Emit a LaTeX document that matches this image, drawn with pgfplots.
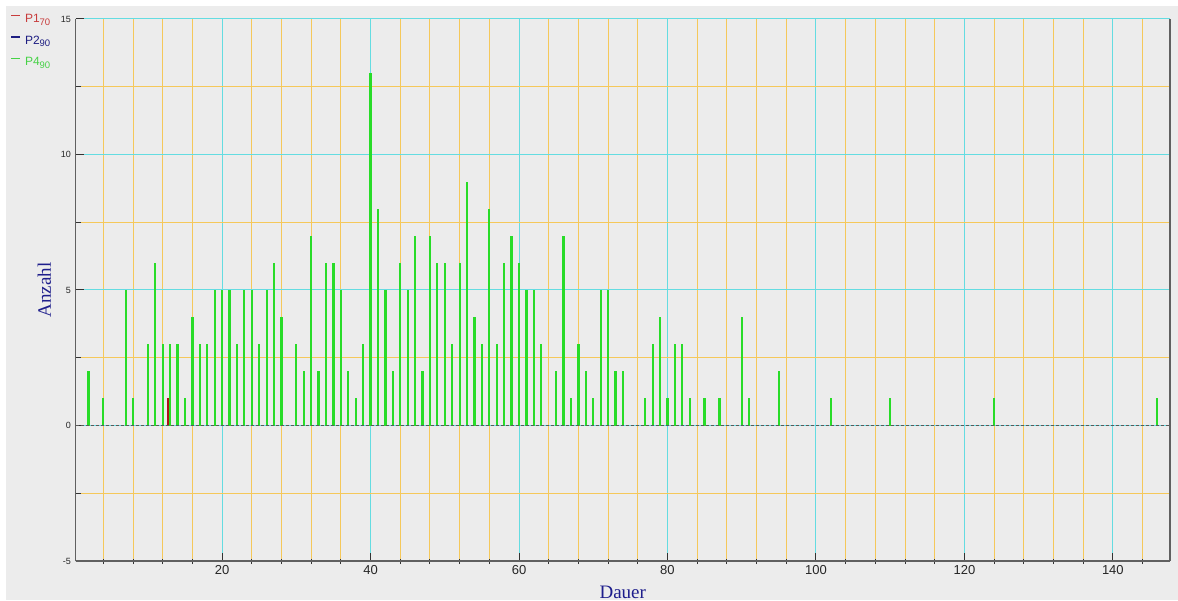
\documentclass[border=0pt]{standalone}
\usepackage{fontspec}
\setmainfont{Liberation Serif}
\setsansfont{Liberation Sans}
\usepackage{pgfplots}
\pgfplotsset{compat=1.18}
\definecolor{bg}{RGB}{236,236,236}
\definecolor{gridcyan}{RGB}{100,220,225}
\definecolor{gridorange}{RGB}{245,200,90}
\definecolor{axgray}{RGB}{96,96,96}
\definecolor{barg}{RGB}{40,220,40}
\definecolor{barr}{RGB}{170,20,20}
\definecolor{labblue}{RGB}{30,30,140}
\definecolor{legred}{RGB}{200,60,60}
\definecolor{legblue}{RGB}{30,30,130}
\definecolor{leggreen}{RGB}{70,210,70}
\newcommand{\lsub}[1]{\raisebox{-2.5pt}{\fontsize{9.5}{9.5}\selectfont #1}}
\begin{document}
\begin{tikzpicture}[x=1pt,y=1pt]
\path[use as bounding box] (0,0) rectangle (1178,600);
\fill[white] (0,0) rectangle (1178,600);
\fill[bg] (6,0) rectangle (1178,594);
\begin{axis}[
  at={(75.5pt,39pt)}, anchor=south west,
  scale only axis, width=1094.5pt, height=542pt,
  xmin=0.25, xmax=147.7, ymin=-5, ymax=15,
  axis x line*=bottom, axis y line*=box,
  axis line style={axgray, line width=1.5pt},
  xtick={20,40,...,140}, ytick={-5,0,...,15},
  minor xtick={4,8,12,16,24,28,32,36,44,48,52,56,64,68,72,76,84,88,92,96,104,108,112,116,124,128,132,136,144},
  minor ytick={-2.5,2.5,7.5,12.5},
  grid=both,
  major grid style={gridcyan, line width=1pt},
  minor grid style={gridorange, line width=1pt},
  ytick pos=left,
  tick align=inside,
  major tick length=8pt, minor tick length=5pt,
  tick style={black!80, line width=1pt},
  minor x tick style={yshift=-3pt},
  /pgf/number format/assume math mode=true,
  xticklabel style={font=\sffamily\fontsize{13}{13}\selectfont, inner sep=0pt, yshift=-4pt, text=black!85},
  yticklabel style={font=\sffamily\fontsize{9}{9}\selectfont, inner sep=0pt, xshift=-4.5pt, text=black!85},
  xlabel={Dauer},
  xlabel style={at={(axis description cs:0.5,-0.0683)}, anchor=base, font=\fontsize{19}{19}\selectfont, text=labblue, inner sep=0pt},
  ylabel={Anzahl},
  ylabel style={at={(axis description cs:-0.0224,0.5)}, anchor=base, font=\fontsize{19}{19}\selectfont, text=labblue, inner sep=0pt},
  legend style={at={(axis description cs:-0.0592,1.0092)}, anchor=north west, draw=none, fill=none,
    font=\sffamily\fontsize{12}{12}\selectfont, row sep=10pt, inner sep=0pt, outer sep=0pt,
    nodes={inner sep=0pt, text height=8.5pt, text depth=3pt},
    /tikz/every odd column/.append style={column sep=4pt}},
  legend cell align=left,
  legend image code/.code={\draw[#1, line width=1.3pt] (0pt,4.3pt) -- (9pt,4.3pt);},
]
\addlegendimage{legred}
\addlegendentry{\textcolor{legred}{P1\lsub{70}}}
\addlegendimage{legblue}
\addlegendentry{\textcolor{legblue}{P2\lsub{90}}}
\addlegendimage{leggreen}
\addlegendentry{\textcolor{leggreen}{P4\lsub{90}}}
% P4 (green)
\addplot[forget plot, ycomb, barg, line width=2.2pt] coordinates {
(2,2)(4,1)(7,5)(8,1)(10,3)(11,6)(12,3)(13,3)(14,3)(15,1)(16,4)(17,3)(18,3)(19,5)(20,5)
(21,5)(22,3)(23,5)(24,5)(25,3)(26,5)(27,6)(28,4)(30,3)(31,2)(32,7)(33,2)(34,6)(35,6)
(36,5)(37,2)(38,1)(39,3)(40,13)(41,8)(42,5)(43,2)(44,6)(45,5)(46,7)(47,2)(48,7)(49,6)
(50,6)(51,3)(52,6)(53,9)(54,4)(55,3)(56,8)(57,3)(58,6)(59,7)(60,6)(61,5)(62,5)(63,3)
(65,2)(66,7)(67,1)(68,3)(69,2)(70,1)(71,5)(72,5)(73,2)(74,2)(77,1)(78,3)(79,4)(80,1)
(81,3)(82,3)(83,1)(85,1)(87,1)(90,4)(91,1)(95,2)(102,1)(110,1)(124,1)(146,1)
};
% P1 (red)
\addplot[forget plot, ycomb, barr, line width=2.2pt] coordinates {(12.68,1)};
% baseline
\addplot[forget plot, black!65, dash pattern=on 3pt off 2pt, line width=1.2pt] coordinates {(0.25,0) (147.7,0)};
\end{axis}
\end{tikzpicture}
\end{document}
